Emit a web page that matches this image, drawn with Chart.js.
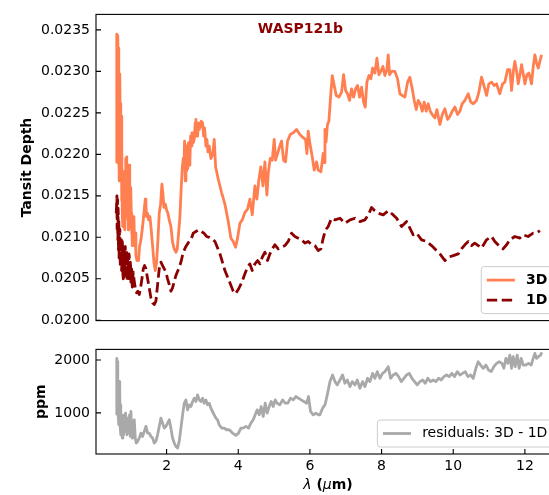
<!DOCTYPE html>
<html>
<head>
<meta charset="utf-8">
<title>WASP121b transit spectrum</title>
<script src="https://cdn.jsdelivr.net/npm/chart.js@4.4.0/dist/chart.umd.min.js"></script>
<style>
  html, body { margin: 0; padding: 0; background: #fff; overflow: hidden; }
  body { width: 549px; height: 495px; position: relative; }
  canvas { position: absolute; left: 0; }
  #spectrumChart { top: 0; }
  #residualChart { top: 335px; }
</style>
</head>
<body>
<canvas id="spectrumChart" width="600" height="335"></canvas>
<canvas id="residualChart" width="600" height="160"></canvas>
<script>
// 3D model transit depth
const wavelength3D = [
  0.600, 0.605, 0.610, 0.614, 0.623, 0.632, 0.642, 0.651, 0.660, 0.670,
  0.679, 0.688, 0.698, 0.707, 0.716, 0.726, 0.735, 0.744, 0.754, 0.763,
  0.772, 0.781, 0.791, 0.800, 0.809, 0.819, 0.828, 0.837, 0.847, 0.856,
  0.865, 0.874, 0.884, 0.893, 0.902, 0.912, 0.921, 0.930, 0.940, 0.949,
  0.958, 0.967, 0.977, 0.986, 0.995, 1.005, 1.014, 1.023, 1.033, 1.042,
  1.051, 1.070, 1.088, 1.107, 1.126, 1.144, 1.172, 1.200, 1.219, 1.246,
  1.284, 1.330, 1.367, 1.405, 1.423, 1.442, 1.470, 1.498, 1.535, 1.563,
  1.609, 1.647, 1.684, 1.721, 1.758, 1.795, 1.833, 1.870, 1.898, 1.926,
  1.963, 2.000, 2.037, 2.074, 2.121, 2.167, 2.214, 2.260, 2.298, 2.335,
  2.372, 2.409, 2.437, 2.465, 2.484, 2.502, 2.521, 2.540, 2.558, 2.577,
  2.595, 2.614, 2.633, 2.651, 2.670, 2.688, 2.707, 2.726, 2.744, 2.772,
  2.800, 2.819, 2.837, 2.865, 2.893, 2.912, 2.940, 2.967, 3.005, 3.033,
  3.060, 3.098, 3.126, 3.153, 3.191, 3.237, 3.290, 3.330, 3.368, 3.442,
  3.535, 3.628, 3.721, 3.795, 3.860, 3.926, 3.980, 4.047, 4.112, 4.186,
  4.260, 4.325, 4.390, 4.465, 4.520, 4.577, 4.632, 4.688, 4.744, 4.800,
  4.837, 4.893, 4.949, 5.004, 5.042, 5.097, 5.153, 5.209, 5.265, 5.320,
  5.376, 5.451, 5.535, 5.628, 5.720, 5.814, 5.879, 5.916, 5.953, 6.000,
  6.065, 6.120, 6.186, 6.232, 6.306, 6.372, 6.400, 6.420, 6.450, 6.490,
  6.530, 6.587, 6.624, 6.679, 6.735, 6.810, 6.884, 6.940, 6.996, 7.050,
  7.107, 7.163, 7.219, 7.275, 7.330, 7.386, 7.442, 7.498, 7.544, 7.590,
  7.647, 7.702, 7.749, 7.814, 7.870, 7.926, 7.980, 8.037, 8.093, 8.149,
  8.186, 8.223, 8.279, 8.372, 8.446, 8.512, 8.577, 8.651, 8.726, 8.790,
  8.856, 8.912, 8.967, 9.023, 9.079, 9.135, 9.190, 9.246, 9.302, 9.358,
  9.414, 9.488, 9.544, 9.600, 9.629, 9.694, 9.768, 9.842, 9.908, 9.973,
  10.047, 10.121, 10.187, 10.250, 10.326, 10.419, 10.490, 10.558, 10.650, 10.716,
  10.790, 10.856, 10.930, 10.995, 11.070, 11.140, 11.210, 11.300, 11.377, 11.440,
  11.516, 11.580, 11.628, 11.684, 11.720, 11.777, 11.814, 11.870, 11.907, 11.963,
  12.000, 12.056, 12.112, 12.186, 12.233, 12.279, 12.326, 12.372, 12.419, 12.465
];
const depth3D = [
  0.02190, 0.02246, 0.02316, 0.02345, 0.02343, 0.02285, 0.02343, 0.02304, 0.02328, 0.02207,
  0.02168, 0.02265, 0.02297, 0.02238, 0.02261, 0.02199, 0.02246, 0.02144, 0.02207, 0.02129,
  0.02175, 0.02113, 0.02160, 0.02129, 0.02179, 0.02144, 0.02109, 0.02152, 0.02125, 0.02175,
  0.02195, 0.02160, 0.02197, 0.02144, 0.02168, 0.02121, 0.02152, 0.02109, 0.02144, 0.02179,
  0.02187, 0.02136, 0.02160, 0.02113, 0.02144, 0.02160, 0.02129, 0.02105, 0.02125, 0.02090,
  0.02113, 0.02097, 0.02125, 0.02090, 0.02105, 0.02078, 0.02072, 0.02074, 0.02072, 0.02089,
  0.02097, 0.02113, 0.02129, 0.02146, 0.02140, 0.02125, 0.02129, 0.02121, 0.02125, 0.02113,
  0.02090, 0.02070, 0.02060, 0.02070, 0.02097, 0.02129, 0.02140, 0.02164, 0.02152, 0.02136,
  0.02140, 0.02133, 0.02129, 0.02121, 0.02113, 0.02094, 0.02086, 0.02082, 0.02086, 0.02105,
  0.02125, 0.02160, 0.02183, 0.02195, 0.02183, 0.02216, 0.02168, 0.02210, 0.02180, 0.02183,
  0.02212, 0.02214, 0.02187, 0.02191, 0.02222, 0.02210, 0.02226, 0.02226, 0.02214, 0.02218,
  0.02238, 0.02242, 0.02222, 0.02222, 0.02238, 0.02230, 0.02234, 0.02240, 0.02238, 0.02222,
  0.02232, 0.02210, 0.02218, 0.02203, 0.02210, 0.02195, 0.02200, 0.02218, 0.02185, 0.02170,
  0.02154, 0.02140, 0.02119, 0.02099, 0.02095, 0.02088, 0.02099, 0.02117, 0.02121, 0.02130,
  0.02134, 0.02146, 0.02127, 0.02162, 0.02146, 0.02170, 0.02185, 0.02162, 0.02191, 0.02151,
  0.02177, 0.02195, 0.02193, 0.02218, 0.02193, 0.02201, 0.02209, 0.02216, 0.02193, 0.02191,
  0.02216, 0.02224, 0.02226, 0.02230, 0.02224, 0.02220, 0.02218, 0.02201, 0.02228, 0.02213,
  0.02197, 0.02181, 0.02191, 0.02181, 0.02179, 0.02201, 0.02190, 0.02230, 0.02215, 0.02236,
  0.02240, 0.02275, 0.02295, 0.02283, 0.02271, 0.02269, 0.02275, 0.02296, 0.02277, 0.02273,
  0.02265, 0.02279, 0.02269, 0.02279, 0.02283, 0.02269, 0.02281, 0.02263, 0.02257, 0.02287,
  0.02295, 0.02291, 0.02304, 0.02298, 0.02316, 0.02296, 0.02300, 0.02306, 0.02295, 0.02302,
  0.02320, 0.02296, 0.02300, 0.02300, 0.02291, 0.02273, 0.02271, 0.02269, 0.02287, 0.02293,
  0.02279, 0.02265, 0.02254, 0.02265, 0.02261, 0.02252, 0.02263, 0.02252, 0.02261, 0.02252,
  0.02248, 0.02244, 0.02254, 0.02242, 0.02236, 0.02248, 0.02255, 0.02242, 0.02246, 0.02252,
  0.02257, 0.02248, 0.02252, 0.02261, 0.02265, 0.02273, 0.02263, 0.02261, 0.02265, 0.02275,
  0.02293, 0.02283, 0.02271, 0.02285, 0.02287, 0.02283, 0.02285, 0.02273, 0.02285, 0.02287,
  0.02302, 0.02302, 0.02277, 0.02302, 0.02312, 0.02298, 0.02285, 0.02298, 0.02308, 0.02295,
  0.02285, 0.02296, 0.02298, 0.02285, 0.02306, 0.02320, 0.02310, 0.02304, 0.02312, 0.02320
];

// 1D model transit depth
const wavelength1D = [
  0.595, 0.605, 0.614, 0.619, 0.623, 0.628, 0.633, 0.638, 0.642, 0.647,
  0.651, 0.656, 0.660, 0.665, 0.670, 0.675, 0.679, 0.688, 0.698, 0.707,
  0.716, 0.726, 0.735, 0.744, 0.754, 0.763, 0.772, 0.781, 0.791, 0.800,
  0.809, 0.819, 0.828, 0.837, 0.847, 0.856, 0.865, 0.874, 0.884, 0.893,
  0.902, 0.912, 0.921, 0.930, 0.940, 0.949, 0.958, 0.967, 0.977, 0.986,
  0.995, 1.005, 1.014, 1.023, 1.033, 1.042, 1.051, 1.070, 1.088,
  1.126, 1.163, 1.200, 1.237, 1.274, 1.312, 1.349, 1.386, 1.423, 1.470,
  1.516, 1.563, 1.609, 1.656, 1.702, 1.749, 1.795, 1.842, 1.888, 1.935,
  1.981, 2.028, 2.074, 2.121, 2.167, 2.214, 2.260, 2.335, 2.400, 2.465,
  2.540, 2.614, 2.679, 2.744, 2.819, 2.893, 2.967, 3.042, 3.116, 3.191,
  3.300, 3.350, 3.490, 3.628, 3.770, 3.860, 3.926, 4.000, 4.093, 4.186,
  4.260, 4.325, 4.390, 4.465, 4.540, 4.605, 4.670, 4.744, 4.818, 4.884,
  4.950, 5.023, 5.116, 5.209, 5.302, 5.395, 5.488, 5.580, 5.674, 5.767,
  5.860, 5.953, 6.046, 6.140, 6.232, 6.306, 6.372, 6.437, 6.510, 6.605,
  6.700, 6.840, 6.980, 7.120, 7.260, 7.395, 7.535, 7.630, 7.720, 7.810,
  7.907, 8.046, 8.186, 8.326, 8.420, 8.558, 8.700, 8.790, 8.883, 8.977,
  9.116, 9.256, 9.395, 9.535, 9.628, 9.770, 9.860, 10.000, 10.140, 10.230,
  10.325, 10.420, 10.510, 10.600, 10.700, 10.790, 10.930, 11.070, 11.160, 11.250,
  11.390, 11.490, 11.580, 11.720, 11.860, 11.950, 12.090, 12.230, 12.320, 12.420
];
const depth1D = [
  0.02129, 0.02140, 0.02150, 0.02110, 0.02121, 0.02146, 0.02144, 0.02100, 0.02097, 0.02135,
  0.02129, 0.02085, 0.02094, 0.02120, 0.02113, 0.02075, 0.02089, 0.02110, 0.02109, 0.02065,
  0.02082, 0.02100, 0.02097, 0.02060, 0.02070, 0.02095, 0.02089, 0.02055, 0.02050, 0.02085,
  0.02082, 0.02052, 0.02058, 0.02088, 0.02089, 0.02056, 0.02066, 0.02085, 0.02082, 0.02048,
  0.02050, 0.02076, 0.02074, 0.02052, 0.02054, 0.02080, 0.02078, 0.02050, 0.02058, 0.02070,
  0.02066, 0.02046, 0.02050, 0.02062, 0.02054, 0.02040, 0.02047, 0.02058, 0.02050,
  0.02039, 0.02033, 0.02035, 0.02031, 0.02039, 0.02050, 0.02062, 0.02066, 0.02062, 0.02050,
  0.02039, 0.02027, 0.02021, 0.02019, 0.02023, 0.02043, 0.02062, 0.02070, 0.02066, 0.02062,
  0.02058, 0.02050, 0.02043, 0.02035, 0.02039, 0.02047, 0.02054, 0.02062, 0.02070, 0.02082,
  0.02089, 0.02094, 0.02097, 0.02105, 0.02107, 0.02109, 0.02107, 0.02105, 0.02101, 0.02100,
  0.02097, 0.02095, 0.02080, 0.02060, 0.02045, 0.02035, 0.02032, 0.02037, 0.02045, 0.02056,
  0.02064, 0.02068, 0.02060, 0.02068, 0.02072, 0.02068, 0.02076, 0.02082, 0.02072, 0.02080,
  0.02086, 0.02091, 0.02086, 0.02088, 0.02090, 0.02095, 0.02105, 0.02101, 0.02099, 0.02097,
  0.02093, 0.02095, 0.02091, 0.02090, 0.02084, 0.02086, 0.02099, 0.02109, 0.02113, 0.02123,
  0.02121, 0.02123, 0.02117, 0.02121, 0.02123, 0.02119, 0.02121, 0.02127, 0.02136, 0.02132,
  0.02129, 0.02127, 0.02132, 0.02127, 0.02123, 0.02113, 0.02119, 0.02111, 0.02103, 0.02105,
  0.02097, 0.02095, 0.02090, 0.02084, 0.02080, 0.02072, 0.02076, 0.02078, 0.02080, 0.02086,
  0.02091, 0.02095, 0.02090, 0.02093, 0.02090, 0.02087, 0.02097, 0.02101, 0.02095, 0.02091,
  0.02086, 0.02091, 0.02097, 0.02101, 0.02099, 0.02103, 0.02101, 0.02105, 0.02105, 0.02108
];

// residuals 3D - 1D in ppm
const wavelengthRes = [
  0.600, 0.605, 0.614, 0.623, 0.633, 0.642, 0.651, 0.660, 0.670, 0.679,
  0.688, 0.698, 0.707, 0.716, 0.726, 0.744, 0.763, 0.781, 0.800, 0.819,
  0.837, 0.856, 0.874, 0.893, 0.912, 0.930, 0.949, 0.967, 0.986, 1.005,
  1.023, 1.042, 1.060, 1.079, 1.098, 1.126, 1.153, 1.190, 1.237, 1.284,
  1.330, 1.377, 1.423, 1.470, 1.516, 1.563, 1.609, 1.656, 1.702, 1.749,
  1.795, 1.842, 1.888, 1.935, 1.981, 2.028, 2.074, 2.120, 2.167, 2.214,
  2.260, 2.307, 2.353, 2.400, 2.446, 2.493, 2.540, 2.586, 2.633, 2.679,
  2.726, 2.772, 2.819, 2.865, 2.912, 2.958, 3.005, 3.051, 3.098, 3.144,
  3.190, 3.237, 3.280, 3.330, 3.376, 3.420, 3.469, 3.543, 3.609, 3.674,
  3.748, 3.841, 3.934, 4.008, 4.073, 4.138, 4.213, 4.287, 4.352, 4.418,
  4.473, 4.529, 4.585, 4.641, 4.697, 4.752, 4.808, 4.864, 4.920, 4.976,
  5.031, 5.087, 5.162, 5.236, 5.310, 5.385, 5.460, 5.534, 5.608, 5.683,
  5.757, 5.831, 5.906, 5.961, 6.017, 6.092, 6.166, 6.240, 6.280, 6.354,
  6.420, 6.485, 6.560, 6.633, 6.700, 6.764, 6.838, 6.912, 6.978, 7.043,
  7.117, 7.182, 7.257, 7.322, 7.396, 7.470, 7.536, 7.610, 7.675, 7.750,
  7.815, 7.880, 7.954, 8.028, 8.094, 8.187, 8.252, 8.326, 8.400, 8.475,
  8.550, 8.624, 8.698, 8.772, 8.847, 8.921, 8.996, 9.070, 9.144, 9.219,
  9.293, 9.368, 9.442, 9.516, 9.590, 9.665, 9.740, 9.814, 9.888, 9.963,
  10.037, 10.112, 10.186, 10.260, 10.335, 10.410, 10.484, 10.558, 10.632, 10.697,
  10.763, 10.837, 10.910, 10.986, 11.060, 11.135, 11.210, 11.283, 11.358, 11.414,
  11.470, 11.525, 11.580, 11.628, 11.674, 11.730, 11.786, 11.840, 11.897, 11.953,
  12.027, 12.100, 12.176, 12.232, 12.280, 12.325, 12.380, 12.437, 12.474
];
const residualPpm = [
  963, 1844, 2032, 1969, 1089, 1655, 963, 1466, 774, 1592,
  900, 1403, 711, 1152, 586, 963, 523, 900, 586, 963,
  649, 994, 711, 586, 900, 617, 711, 963, 554, 1026,
  649, 523, 837, 554, 869, 523, 428, 460, 523, 617,
  554, 649, 743, 617, 617, 554, 523, 428, 460, 586,
  743, 900, 806, 711, 743, 806, 869, 711, 523, 428,
  365, 334, 460, 711, 963, 1183, 1246, 1057, 1152, 1120,
  1215, 1278, 1215, 1340, 1246, 1215, 1278, 1183, 1246, 1152,
  1183, 1089, 1026, 963, 900, 869, 774, 711, 711, 680,
  680, 617, 573, 617, 711, 711, 743, 711, 806, 869,
  963, 1057, 963, 1120, 932, 1183, 994, 1120, 1215, 1120,
  1246, 1183, 1152, 1246, 1183, 1183, 1278, 1246, 1309, 1278,
  1246, 1215, 1183, 1309, 1026, 963, 994, 963, 963, 1089,
  1150, 1340, 1592, 1718, 1592, 1529, 1623, 1718, 1561, 1623,
  1498, 1592, 1529, 1623, 1466, 1592, 1498, 1655, 1592, 1749,
  1655, 1781, 1655, 1749, 1781, 1875, 1655, 1718, 1749, 1686,
  1592, 1655, 1718, 1749, 1655, 1592, 1529, 1592, 1623, 1561,
  1655, 1592, 1623, 1592, 1655, 1623, 1686, 1718, 1686, 1749,
  1686, 1781, 1718, 1749, 1781, 1686, 1718, 1655, 1844, 1969,
  1906, 1844, 1906, 1812, 1781, 1875, 1938, 1969, 1938, 1844,
  2032, 1938, 2095, 1844, 2064, 1875, 2095, 1844, 2032, 1906,
  1906, 1938, 1906, 2032, 2127, 2032, 2064, 2095, 2145
];

const depthTicks = [0.0200, 0.0205, 0.0210, 0.0215, 0.0220, 0.0225, 0.0230, 0.0235];
const ppmTicks = [1000, 2000];
const wavelengthTicks = [2, 4, 6, 8, 10, 12];

const FONT = "'DejaVu Sans', sans-serif";
Chart.defaults.font.family = FONT;
Chart.defaults.font.size = 14;
Chart.defaults.color = '#000';

const toPoints = (xs, ys) => xs.map((x, i) => ({ x, y: ys[i] }));

// frame, inward ticks, axis labels, legend and in-axes title
const axesDecor = {
  id: 'axesDecor',
  afterDraw(chart, args, opts) {
    const { ctx, chartArea: a, scales } = chart;
    ctx.save();

    ctx.strokeStyle = '#000';
    ctx.lineWidth = 1.1;
    ctx.beginPath();
    scales.y.ticks.forEach(t => {
      const y = scales.y.getPixelForValue(t.value);
      ctx.moveTo(a.left, y);
      ctx.lineTo(a.left + 5, y);
    });
    if (opts.xTicks) {
      scales.x.ticks.forEach(t => {
        const x = scales.x.getPixelForValue(t.value);
        ctx.moveTo(x, a.bottom);
        ctx.lineTo(x, a.bottom - 5);
      });
    }
    ctx.stroke();
    ctx.strokeRect(a.left, a.top, a.right - a.left, a.bottom - a.top);

    // y axis label
    ctx.fillStyle = '#000';
    ctx.font = 'bold 14px ' + FONT;
    ctx.textAlign = 'center';
    ctx.textBaseline = 'middle';
    ctx.save();
    ctx.translate(opts.yLabelX, (a.top + a.bottom) / 2);
    ctx.rotate(-Math.PI / 2);
    ctx.fillText(opts.yLabel, 0, 0);
    ctx.restore();

    // x axis label with math-italic symbols
    if (opts.xLabel) {
      let total = 0;
      opts.xLabel.forEach(p => { ctx.font = p.font; p.w = ctx.measureText(p.text).width; total += p.w; });
      let x = (a.left + a.right) / 2 - total / 2;
      ctx.textAlign = 'left';
      opts.xLabel.forEach(p => { ctx.font = p.font; ctx.fillText(p.text, x, opts.xLabelY); x += p.w; });
    }

    if (opts.title) {
      ctx.font = 'bold 14px ' + FONT;
      ctx.fillStyle = opts.title.color;
      ctx.textAlign = 'center';
      ctx.fillText(opts.title.text,
        a.left + opts.title.fx * (a.right - a.left),
        a.top + opts.title.fy * (a.bottom - a.top));
    }

    // legend box, lower right
    const sets = chart.data.datasets;
    ctx.font = (opts.legendBold ? 'bold ' : '') + '14px ' + FONT;
    const textW = Math.max(...sets.map(d => ctx.measureText(d.label).width));
    const w = 5.6 + 28 + 11.2 + textW + 5.6;
    const h = 27 + 20 * (sets.length - 1);
    const right = a.right - 7, bottom = a.bottom - 7;
    const left = right - w, top = bottom - h;
    ctx.beginPath();
    ctx.roundRect(left, top, w, h, 3);
    ctx.fillStyle = 'rgba(255,255,255,0.8)';
    ctx.fill();
    ctx.strokeStyle = '#cccccc';
    ctx.lineWidth = 1;
    ctx.stroke();
    sets.forEach((d, row) => {
      const y = top + 13.5 + row * 20;
      ctx.beginPath();
      ctx.setLineDash(d.borderDash || []);
      ctx.strokeStyle = d.borderColor;
      ctx.lineWidth = d.borderWidth;
      ctx.moveTo(left + 5.6, y);
      ctx.lineTo(left + 33.6, y);
      ctx.stroke();
      ctx.setLineDash([]);
      ctx.fillStyle = '#000';
      ctx.textAlign = 'left';
      ctx.fillText(d.label, left + 44.8, y);
    });

    ctx.restore();
  }
};

const lineStyle = { pointRadius: 0, tension: 0, borderJoinStyle: 'round', fill: false };
const noGrid = { display: false, drawTicks: false };

new Chart(document.getElementById('spectrumChart'), {
  type: 'line',
  data: {
    datasets: [
      Object.assign({ label: '3D', data: toPoints(wavelength3D, depth3D),
        borderColor: '#ff7f50', borderWidth: 2.8, order: 1 }, lineStyle),
      Object.assign({ label: '1D', data: toPoints(wavelength1D, depth1D),
        borderColor: '#8b0000', borderWidth: 2.8, borderDash: [10.4, 4.5], order: 0 }, lineStyle)
    ]
  },
  options: {
    responsive: false,
    animation: false,
    events: [],
    devicePixelRatio: 1,
    layout: { padding: { top: 10, right: 40, bottom: 10, left: 0 } },
    plugins: {
      legend: { display: false },
      tooltip: { enabled: false },
      axesDecor: {
        yLabel: 'Tansit Depth',
        yLabelX: 27,
        legendBold: true,
        title: { text: 'WASP121b', color: '#8b0000', fx: 0.4407, fy: 0.0476 }
      }
    },
    scales: {
      x: { type: 'linear', min: 0.03, max: 12.98, display: false },
      y: {
        min: 0.019996, max: 0.023687,
        afterFit: s => { s.width = 96; },
        afterBuildTicks: s => { s.ticks = depthTicks.map(v => ({ value: v })); },
        grid: noGrid,
        border: { display: false },
        ticks: { padding: 6, callback: v => v.toFixed(4) }
      }
    }
  },
  plugins: [axesDecor]
});

new Chart(document.getElementById('residualChart'), {
  type: 'line',
  data: {
    datasets: [
      Object.assign({ label: 'residuals: 3D - 1D', data: toPoints(wavelengthRes, residualPpm),
        borderColor: '#a9a9a9', borderWidth: 2.8 }, lineStyle)
    ]
  },
  options: {
    responsive: false,
    animation: false,
    events: [],
    devicePixelRatio: 1,
    layout: { padding: { top: 14, right: 40, bottom: 0, left: 0 } },
    plugins: {
      legend: { display: false },
      tooltip: { enabled: false },
      axesDecor: {
        yLabel: 'ppm',
        yLabelX: 41,
        xTicks: true,
        xLabelY: 150,
        xLabel: [
          { text: 'λ', font: 'italic 14px ' + FONT },
          { text: ' (', font: 'bold 14px ' + FONT },
          { text: 'μ', font: 'italic 14px ' + FONT },
          { text: 'm)', font: 'bold 14px ' + FONT }
        ]
      }
    },
    scales: {
      x: {
        type: 'linear', min: 0.03, max: 12.98,
        afterFit: s => { s.height = 41; },
        afterBuildTicks: s => { s.ticks = wavelengthTicks.map(v => ({ value: v })); },
        grid: noGrid,
        border: { display: false },
        ticks: { padding: 4, maxRotation: 0, callback: v => String(v) }
      },
      y: {
        min: 221, max: 2202,
        afterFit: s => { s.width = 96; },
        afterBuildTicks: s => { s.ticks = ppmTicks.map(v => ({ value: v })); },
        grid: noGrid,
        border: { display: false },
        ticks: { padding: 6, callback: v => String(v) }
      }
    }
  },
  plugins: [axesDecor]
});
</script>
</body>
</html>
